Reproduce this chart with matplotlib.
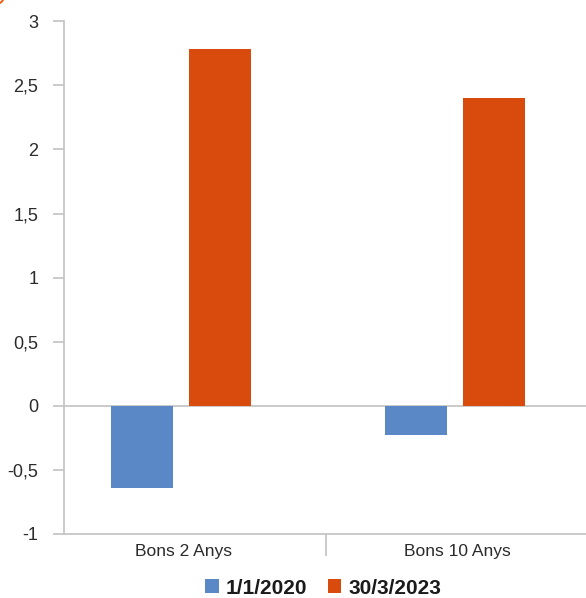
import matplotlib
matplotlib.use("Agg")
import matplotlib.pyplot as plt
from matplotlib.patches import Patch, Circle
import numpy as np

categories = ["Bons 2 Anys", "Bons 10 Anys"]
series_names = ["1/1/2020", "30/3/2023"]
vals_2020 = [-0.64, -0.23]
vals_2023 = [2.78, 2.40]
colors = ["#5A88C6", "#D84B0C"]
yticks = [-1, -0.5, 0, 0.5, 1, 1.5, 2, 2.5, 3]

W, H = 586, 598
fig = plt.figure(figsize=(W / 100, H / 100), dpi=100)
plt.rcParams["font.family"] = ["Liberation Sans", "DejaVu Sans"]

left_px, right_px, top_px, bot_px = 63.7, 589.0, 21.3, 534.0
ax = fig.add_axes([left_px / W, 1 - bot_px / H,
                   (right_px - left_px) / W, (bot_px - top_px) / H])

grey = "#C6C6C6"
text_col = "#2B2B2B"

x = np.arange(len(categories))
bw = 0.227
off = 0.1426
ax.bar(x - off, vals_2020, bw, color=colors[0], zorder=3)
ax.bar(x + off, vals_2023, bw, color=colors[1], zorder=3)

ax.set_ylim(-1, 3)
x0, x1 = -0.429, 1.49
ax.set_xlim(x0, x1)
mid = (x0 + x1) / 2

ax.axhline(0, color=grey, lw=1.3, zorder=1, clip_on=False)

for s in ["top", "right"]:
    ax.spines[s].set_visible(False)
for s in ["left", "bottom"]:
    ax.spines[s].set_color(grey)
    ax.spines[s].set_linewidth(1.3)

ax.set_yticks(yticks)
ax.set_yticklabels([("%g" % v).replace(".", ",") for v in yticks])
ax.tick_params(axis="y", length=7.7, width=1.3, color=grey, pad=10.5,
               labelsize=13, labelcolor=text_col)

ax.set_xticks(x + 0.01)
ax.set_xticklabels(categories)
ax.tick_params(axis="x", which="major", length=0, pad=7,
               labelsize=12.5, labelcolor=text_col)
ax.set_xticks([mid], minor=True)
ax.tick_params(axis="x", which="minor", length=16, width=1.3, color=grey)

handles = [Patch(facecolor=c, edgecolor="none") for c in colors]
fig.legend(handles, series_names, loc="center",
           bbox_to_anchor=(323 / W, 1 - 588 / H),
           ncol=2, frameon=False,
           prop={"weight": "bold", "size": 15},
           handlelength=0.67, handleheight=0.67, handletextpad=0.33,
           columnspacing=0.98, borderaxespad=0, borderpad=0)
for t in fig.legends[0].get_texts():
    t.set_color("#1A1A1A")

# small corner badge
fig.patches.append(Circle((-4, H + 4), 8, transform=None, facecolor="none",
                          edgecolor="#E8651E", lw=1.5, zorder=0))

fig.savefig("out.png", dpi=100)
